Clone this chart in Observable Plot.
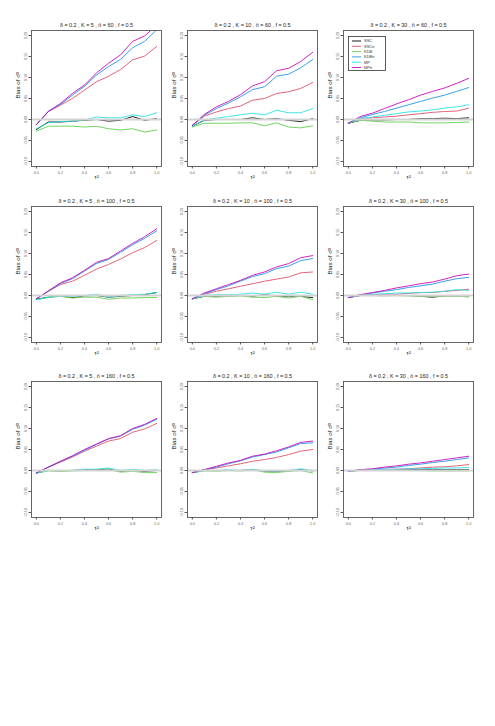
<!DOCTYPE html>
<html>
<head>
<meta charset="utf-8">
<script src="https://cdn.jsdelivr.net/npm/d3@7"></script>
<script src="https://cdn.jsdelivr.net/npm/@observablehq/plot@0.6"></script>
<style>
  html, body { margin: 0; padding: 0; background: #fff; }
  #root { position: relative; width: 495px; height: 726px; font-family: "Liberation Sans", Arial, sans-serif; }
  #root > div.pan { position: absolute; }
  #legend { position: absolute; }
</style>
</head>
<body>
<div id="root"></div>
<script>
// ---- data ----
const tau = [0.0, 0.1, 0.2, 0.3, 0.4, 0.5, 0.6, 0.7, 0.8, 0.9, 1.0];
const methods = ["SSC", "SSCtr", "KDB", "KDBtr", "MP", "MPtr"];
const colors = ["#000000", "#DF536B", "#61D04F", "#2297E6", "#28E2E5", "#CD0BBC"];
const xTicks = [0.0, 0.2, 0.4, 0.6, 0.8, 1.0];
const yTicks = [-0.10, -0.05, 0.00, 0.05, 0.10, 0.15, 0.20];
const Kvals = [5, 10, 30];
const nvals = [60, 100, 160];

const k5n60 = {
  SSC:   [-0.024, -0.006, -0.006, -0.004, -0.002, 0.000, -0.004, -0.002, 0.007, -0.002, 0.002],
  SSCtr: [-0.012, 0.019, 0.034, 0.050, 0.070, 0.090, 0.103, 0.119, 0.142, 0.151, 0.174],
  KDB:   [-0.028, -0.016, -0.016, -0.016, -0.018, -0.016, -0.022, -0.025, -0.022, -0.030, -0.025],
  KDBtr: [-0.012, 0.020, 0.036, 0.058, 0.079, 0.106, 0.126, 0.143, 0.171, 0.186, 0.214],
  MP:    [-0.022, -0.008, -0.005, -0.004, -0.001, 0.006, 0.004, 0.004, 0.011, 0.007, 0.016],
  MPtr:  [-0.013, 0.019, 0.038, 0.062, 0.082, 0.111, 0.134, 0.154, 0.186, 0.199, 0.225]
};
const k10n60 = {
  SSC:   [-0.016, -0.002, 0.000, 0.000, 0.000, 0.004, 0.000, 0.002, -0.002, -0.005, 0.002],
  SSCtr: [-0.014, 0.008, 0.018, 0.026, 0.032, 0.046, 0.050, 0.062, 0.066, 0.074, 0.088],
  KDB:   [-0.018, -0.009, -0.009, -0.009, -0.008, -0.008, -0.015, -0.008, -0.018, -0.020, -0.015],
  KDBtr: [-0.014, 0.010, 0.026, 0.039, 0.054, 0.071, 0.078, 0.103, 0.108, 0.123, 0.143],
  MP:    [-0.016, -0.001, 0.003, 0.007, 0.011, 0.015, 0.011, 0.022, 0.016, 0.016, 0.026],
  MPtr:  [-0.014, 0.012, 0.030, 0.043, 0.059, 0.080, 0.090, 0.116, 0.122, 0.138, 0.160]
};
const k30n60 = {
  SSC:   [-0.009, -0.002, -0.001, -0.001, 0.000, 0.000, 0.002, 0.002, 0.003, 0.002, 0.004],
  SSCtr: [-0.009, 0.002, 0.004, 0.006, 0.008, 0.011, 0.014, 0.017, 0.019, 0.020, 0.027],
  KDB:   [-0.009, -0.002, -0.004, -0.006, -0.006, -0.006, -0.008, -0.008, -0.008, -0.007, -0.006],
  KDBtr: [-0.009, 0.004, 0.012, 0.019, 0.027, 0.035, 0.043, 0.051, 0.058, 0.067, 0.076],
  MP:    [-0.009, 0.002, 0.006, 0.010, 0.014, 0.018, 0.020, 0.023, 0.027, 0.030, 0.035],
  MPtr:  [-0.009, 0.007, 0.015, 0.026, 0.037, 0.047, 0.058, 0.067, 0.075, 0.086, 0.098]
};
const k5n100 = {
  SSC:   [-0.009, -0.004, -0.001, -0.005, -0.001, 0.000, -0.004, -0.002, 0.000, 0.002, 0.007],
  SSCtr: [-0.008, 0.010, 0.026, 0.034, 0.048, 0.063, 0.074, 0.087, 0.102, 0.114, 0.131],
  KDB:   [-0.010, -0.005, -0.002, -0.006, -0.004, -0.004, -0.009, -0.006, -0.006, -0.005, -0.005],
  KDBtr: [-0.008, 0.010, 0.028, 0.040, 0.058, 0.076, 0.086, 0.103, 0.121, 0.136, 0.154],
  MP:    [-0.010, -0.004, -0.001, -0.002, 0.000, 0.003, -0.004, 0.000, 0.002, 0.003, 0.007],
  MPtr:  [-0.008, 0.011, 0.030, 0.042, 0.060, 0.079, 0.088, 0.106, 0.124, 0.140, 0.159]
};
const k10n100 = {
  SSC:   [-0.008, -0.002, -0.002, -0.001, 0.000, -0.002, 0.002, -0.002, -0.002, -0.002, -0.005],
  SSCtr: [-0.008, 0.003, 0.010, 0.016, 0.022, 0.028, 0.034, 0.039, 0.044, 0.054, 0.056],
  KDB:   [-0.008, -0.002, -0.004, -0.002, -0.001, -0.004, -0.005, -0.002, -0.006, -0.002, -0.010],
  KDBtr: [-0.008, 0.004, 0.014, 0.023, 0.034, 0.045, 0.052, 0.064, 0.070, 0.083, 0.088],
  MP:    [-0.008, 0.000, 0.002, 0.002, 0.003, 0.006, 0.003, 0.008, 0.003, 0.008, 0.003],
  MPtr:  [-0.008, 0.006, 0.016, 0.026, 0.036, 0.048, 0.056, 0.068, 0.076, 0.090, 0.095]
};
const k30n100 = {
  SSC:   [-0.005, 0.000, 0.000, 0.000, 0.000, 0.000, -0.002, -0.004, -0.001, -0.001, -0.001],
  SSCtr: [-0.005, 0.002, 0.002, 0.003, 0.003, 0.005, 0.007, 0.007, 0.010, 0.012, 0.015],
  KDB:   [-0.005, 0.000, 0.000, -0.001, 0.000, -0.001, -0.002, -0.002, -0.002, -0.001, -0.004],
  KDBtr: [-0.005, 0.000, 0.006, 0.010, 0.014, 0.019, 0.023, 0.027, 0.034, 0.040, 0.043],
  MP:    [-0.005, 0.002, 0.003, 0.004, 0.006, 0.006, 0.007, 0.008, 0.010, 0.014, 0.012],
  MPtr:  [-0.005, 0.002, 0.007, 0.012, 0.018, 0.023, 0.028, 0.032, 0.039, 0.047, 0.051]
};
const k5n160 = {
  SSC:   [-0.006, 0.000, -0.001, 0.000, 0.002, 0.002, 0.003, -0.002, 0.000, -0.002, 0.000],
  SSCtr: [-0.006, 0.008, 0.020, 0.032, 0.046, 0.058, 0.070, 0.076, 0.091, 0.099, 0.112],
  KDB:   [-0.006, -0.001, -0.002, -0.001, 0.000, 0.000, 0.002, -0.004, -0.002, -0.005, -0.005],
  KDBtr: [-0.006, 0.008, 0.021, 0.034, 0.048, 0.062, 0.075, 0.082, 0.098, 0.108, 0.122],
  MP:    [-0.006, 0.000, 0.000, 0.000, 0.003, 0.003, 0.006, 0.000, 0.003, 0.000, 0.002],
  MPtr:  [-0.006, 0.008, 0.022, 0.035, 0.050, 0.063, 0.076, 0.083, 0.100, 0.110, 0.124]
};
const k10n160 = {
  SSC:   [-0.005, 0.000, 0.000, 0.000, 0.000, 0.002, -0.002, -0.002, -0.001, 0.002, -0.001],
  SSCtr: [-0.005, 0.002, 0.006, 0.011, 0.016, 0.022, 0.026, 0.031, 0.038, 0.046, 0.050],
  KDB:   [-0.005, -0.001, -0.002, 0.000, -0.001, 0.002, -0.004, -0.005, -0.002, 0.000, -0.006],
  KDBtr: [-0.005, 0.002, 0.008, 0.016, 0.023, 0.032, 0.038, 0.044, 0.054, 0.064, 0.066],
  MP:    [-0.005, 0.000, 0.000, 0.002, 0.000, 0.003, -0.001, -0.001, 0.000, 0.004, 0.000],
  MPtr:  [-0.005, 0.002, 0.010, 0.018, 0.024, 0.034, 0.039, 0.047, 0.056, 0.067, 0.070]
};
const k30n160 = {
  SSC:   [-0.002, 0.001, 0.001, 0.001, 0.002, 0.002, 0.002, 0.002, 0.002, 0.002, 0.002],
  SSCtr: [-0.002, 0.001, 0.002, 0.003, 0.003, 0.004, 0.006, 0.008, 0.009, 0.011, 0.014],
  KDB:   [-0.002, 0.000, 0.000, 0.000, 0.000, 0.000, 0.000, -0.001, -0.001, -0.001, -0.001],
  KDBtr: [-0.002, 0.002, 0.003, 0.006, 0.008, 0.012, 0.015, 0.019, 0.022, 0.026, 0.030],
  MP:    [-0.002, 0.001, 0.002, 0.002, 0.003, 0.004, 0.004, 0.005, 0.006, 0.006, 0.007],
  MPtr:  [-0.002, 0.002, 0.004, 0.008, 0.011, 0.015, 0.018, 0.022, 0.026, 0.030, 0.034]
};

const panelData = [
  [k5n60, k10n60, k30n60],
  [k5n100, k10n100, k30n100],
  [k5n160, k10n160, k30n160]
];

// ---- layout ----
const frameLeft = [31, 187, 343];
const frameTop = [30, 206, 381];
const frameW = 130, frameH = 136;
const mL = 31, mT = 30, mR = 8, mB = 22;
const FONT = "Liberation Sans, Arial, sans-serif";
const fmtNum = (d, p) => d3.format("." + p + "f")(d).replace("−", "-");

const root = document.getElementById("root");

function makePanel(r, c) {
  const obj = panelData[r][c];
  const rows = [];
  methods.forEach(m => tau.forEach((t, i) => rows.push({tau: t, bias: obj[m][i], method: m})));
  const title = `δ = 0.2 , K = ${Kvals[c]} , n\u0304 = ${nvals[r]} , f = 0.5`;
  const chart = Plot.plot({
    width: frameW + mL + mR,
    height: frameH + mT + mB,
    marginLeft: mL, marginRight: mR, marginTop: mT, marginBottom: mB,
    style: {fontFamily: FONT, background: "transparent", overflow: "visible"},
    x: {domain: [-0.04, 1.04]},
    y: {domain: [-0.112, 0.212]},
    color: {domain: methods, range: colors},
    marks: [
      Plot.line(rows, {x: "tau", y: "bias", z: "method", stroke: "method", strokeWidth: 0.9, clip: true}),
      Plot.ruleY([0], {stroke: "#d3d3d3", strokeWidth: 1.8}),
      Plot.frame({stroke: "#555", strokeWidth: 0.9}),
      Plot.axisX({ticks: xTicks, tickFormat: d => fmtNum(d, 1), tickSize: 2.5, tickPadding: 2, fontSize: 3.8, stroke: "#555", fill: "#666", label: null}),
      Plot.axisY({ticks: yTicks, tickFormat: d => fmtNum(d, 2), tickSize: 2.5, tickPadding: 2, tickRotate: -90, fontSize: 3.8, stroke: "#555", fill: "#666", label: null}),
      Plot.text([title], {frameAnchor: "top", dy: -7, fontSize: 5.4, fill: "#222"}),
      Plot.text(["Bias of σ\u0302²"], {frameAnchor: "left", dx: -13, rotate: -90, fontSize: 6.2, fill: "#222"}),
      Plot.text(["τ²"], {frameAnchor: "bottom", dy: 12, fontSize: 6.2, fill: "#222"})
    ]
  });
  const div = document.createElement("div");
  div.className = "pan";
  div.style.left = (frameLeft[c] - mL) + "px";
  div.style.top = (frameTop[r] - mT) + "px";
  div.appendChild(chart);
  root.appendChild(div);
}

for (let r = 0; r < 3; r++) for (let c = 0; c < 3; c++) makePanel(r, c);

// ---- legend (top-right panel) ----
const lg = d3.select(root).append("svg")
  .attr("id", "legend")
  .attr("width", 38).attr("height", 35)
  .style("left", (frameLeft[2] + 5) + "px")
  .style("top", (frameTop[0] + 6) + "px")
  .style("font-family", FONT);
lg.append("rect").attr("x", 0.5).attr("y", 0.5).attr("width", 37).attr("height", 34)
  .attr("fill", "white").attr("stroke", "#333").attr("stroke-width", 0.8);
methods.forEach((m, i) => {
  const y = 5 + i * 5.3;
  lg.append("line").attr("x1", 4).attr("x2", 13).attr("y1", y).attr("y2", y)
    .attr("stroke", colors[i]).attr("stroke-width", 0.9);
  lg.append("text").attr("x", 16).attr("y", y).attr("dy", "0.35em")
    .attr("font-size", 4).attr("fill", "#333").text(m);
});
</script>
</body>
</html>
